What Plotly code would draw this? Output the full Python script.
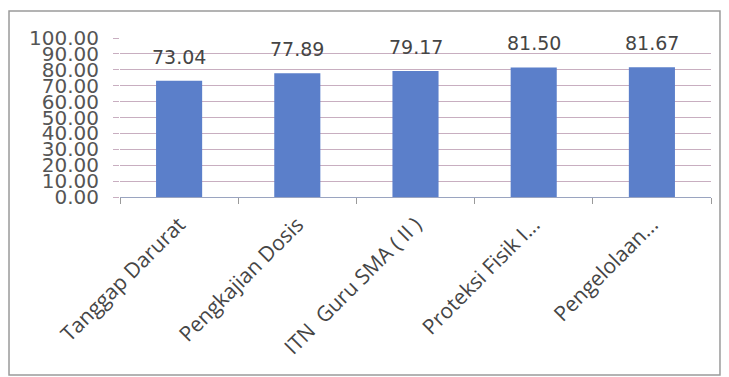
import plotly.graph_objects as go

# Training topics and their average scores
categories = [
    "Tanggap Darurat",
    "Pengkajian Dosis",
    "ITN\u00a0 Guru SMA ( II )",
    "Proteksi Fisik I...",
    "Pengelolaan...",
]
scores = [73.04, 77.89, 79.17, 81.50, 81.67]
y_ticks = [0, 10, 20, 30, 40, 50, 60, 70, 80, 90, 100]

bar_color = "#5b7fca"
grid_color = "#c8aec0"
text_color = "#454545"

fig = go.Figure()
fig.add_trace(go.Bar(
    x=categories,
    y=scores,
    marker=dict(color=bar_color, line=dict(width=0)),
    hoverinfo="skip",
))

# Value labels above each bar
for cat, val in zip(categories, scores):
    fig.add_annotation(
        x=cat, y=val, text=f"{val:.2f}", showarrow=False,
        yanchor="middle", yshift=24,
        font=dict(family="DejaVu Sans", size=19, color=text_color),
    )

# Outer chart frame
fig.add_shape(
    type="rect", xref="paper", yref="paper",
    x0=-0.1878, x1=1.0152, y0=-1.1195, y1=1.1698,
    line=dict(color="#9a9a9a", width=1.5), fillcolor="rgba(0,0,0,0)",
    layer="below",
)

fig.update_layout(
    width=729, height=377,
    margin=dict(l=120, r=18, t=38, b=180),
    paper_bgcolor="white", plot_bgcolor="white",
    showlegend=False,
    bargap=0.61,
    xaxis=dict(
        type="category",
        tickangle=-45,
        tickson="boundaries",
        ticks="outside", ticklen=6, tickcolor="#9a9a9a",
        showgrid=False,
        showline=True, linecolor="#9aa4c0", linewidth=1,
        tickfont=dict(family="Open Sans", size=21, color=text_color),
        ticklabelstandoff=6,
    ),
    yaxis=dict(
        range=[0, 100],
        tickvals=y_ticks,
        tickformat=".2f",
        ticks="outside", ticklen=6, tickcolor=grid_color,
        showgrid=True, gridcolor=grid_color, gridwidth=1,
        zeroline=False, showline=False,
        tickfont=dict(family="DejaVu Sans", size=20, color="#555555"),
        ticklabelstandoff=10,
    ),
)

fig.write_html("out.html")
